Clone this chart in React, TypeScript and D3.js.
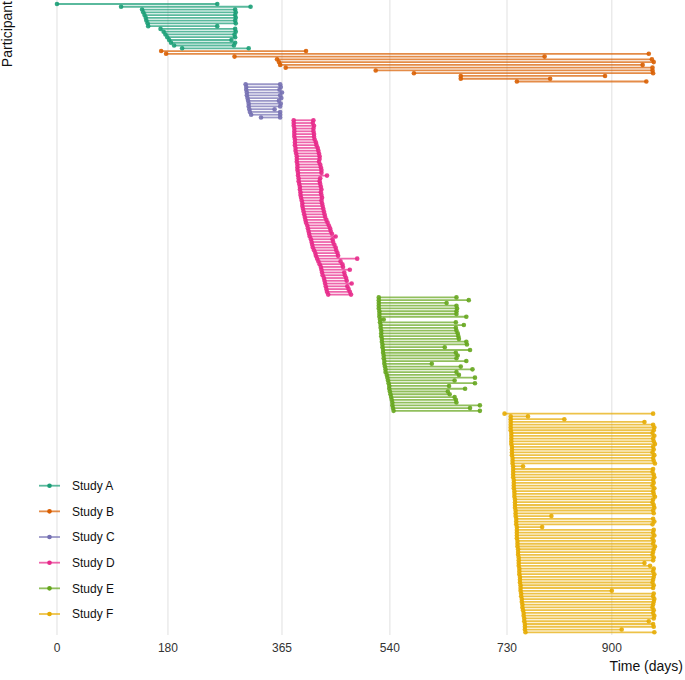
import { useEffect } from 'react';
import * as d3 from 'd3';

const STUDIES = ['Study A', 'Study B', 'Study C', 'Study D', 'Study E', 'Study F'];
const COLORS = ['#1b9e77', '#d95f02', '#7570b3', '#e7298a', '#66a61e', '#e6ab02'];
const X_TICKS = [0, 180, 365, 540, 730, 900];

// start / end day of each participant, per study (top to bottom)
const startA = [0, 104, 138, 140, 142, 144, 145, 147, 148, 168, 173, 176, 179, 182, 185, 190, 203];
const endA = [260, 314, 289, 290, 289, 290, 289, 290, 260, 289, 290, 288, 289, 283, 289, 287, 311];

const startB = [169, 177, 288, 357, 360, 362, 371, 517, 579, 655, 655, 746];
const endB = [404, 960, 791, 965, 968, 950, 966, 966, 967, 889, 800, 956];

const startC = [306, 307, 307, 308, 308, 309, 310, 311, 311, 312, 313, 315, 331];
const endC = [362, 363, 361, 365, 362, 364, 360, 363, 362, 353, 362, 362, 362];

const startD = [
  384, 384, 384, 385, 385, 385, 385, 386, 386, 386, 387, 387, 388, 389, 389, 389,
  390, 390, 390, 391, 391, 392, 392, 393, 394, 394, 395, 395, 396, 397, 398, 398,
  399, 400, 401, 402, 403, 404, 406, 407, 408, 409, 410, 412, 413, 414, 415, 417,
  419, 420, 422, 424, 426, 428, 429, 430, 431, 433, 434, 435, 436, 437, 438, 440,
];
const endD = [
  416, 415, 417, 416, 416, 417, 417, 418, 420, 421, 423, 424, 425, 426, 426, 425,
  427, 428, 429, 429, 438, 427, 426, 427, 428, 429, 428, 429, 430, 429, 430, 431,
  432, 433, 434, 435, 437, 439, 441, 443, 444, 446, 452, 447, 448, 450, 452, 453,
  455, 456, 487, 460, 463, 464, 475, 466, 467, 469, 470, 478, 471, 473, 475, 477,
];

const startE = [
  522, 522, 522, 522, 522, 523, 523, 523, 524, 524, 525, 525, 526, 526, 526, 527,
  527, 528, 528, 529, 529, 530, 530, 531, 531, 532, 533, 533, 535, 536, 537, 538,
  539, 539, 540, 541, 542, 543, 544, 544, 545, 546,
];
const endE = [
  648, 668, 632, 648, 649, 648, 648, 664, 530, 647, 660, 647, 648, 650, 651, 652,
  664, 665, 629, 670, 647, 650, 648, 664, 608, 655, 674, 648, 652, 678, 645, 678,
  636, 662, 634, 637, 645, 647, 648, 686, 670, 686,
];

const startF = [
  726, 736, 736, 736, 736, 736, 736, 737, 737, 737, 737, 737, 738, 738, 738, 738,
  739, 739, 739, 740, 740, 740, 740, 740, 741, 741, 741, 741, 742, 742, 742, 743,
  743, 743, 743, 744, 744, 744, 745, 745, 745, 746, 746, 746, 746, 746, 747, 747,
  747, 748, 748, 748, 749, 749, 749, 749, 750, 750, 750, 751, 751, 751, 752, 752,
  752, 753, 753, 754, 754, 755, 755, 756, 757, 757, 758, 758, 759, 759, 759, 760,
];
const endF = [
  967, 764, 823, 953, 967, 969, 968, 966, 969, 967, 968, 970, 967, 968, 966, 969,
  967, 968, 970, 756, 967, 966, 968, 969, 967, 968, 966, 969, 967, 968, 970, 967,
  966, 968, 969, 967, 968, 802, 967, 969, 966, 787, 968, 967, 969, 966, 968, 967,
  970, 968, 967, 966, 968, 967, 953, 962, 968, 967, 969, 968, 967, 966, 968, 967,
  900, 968, 967, 969, 968, 967, 966, 968, 967, 969, 968, 960, 967, 968, 916, 969,
];

const STARTS = [startA, startB, startC, startD, startE, startF];
const ENDS = [endA, endB, endC, endD, endE, endF];

interface Row { id: string; study: number; start: number; end: number; }

const rows: Row[] = [];
STARTS.forEach((s, si) => {
  s.forEach((v, i) => rows.push({ id: `${si}-${i}`, study: si, start: v, end: ENDS[si][i] }));
});

const W = 685;
const H = 680;
const FONT = '"Liberation Sans", Arial, sans-serif';

export default function App() {
  useEffect(() => {
    document.body.style.margin = '0';
  }, []);

  const x = d3.scaleLinear().domain([-47, 1009]).range([28, 679]);
  const y = d3.scalePoint<string>().domain(rows.map(r => r.id)).range([4, 632.3]);

  const legendY = d3.scalePoint<string>().domain(STUDIES).range([485.7, 614]);

  return (
    <svg width={W} height={H} style={{ display: 'block', fontFamily: FONT }}>
      <rect width={W} height={H} fill="#fff" />
      {X_TICKS.map(t => (
        <line key={`g${t}`} x1={x(t)} x2={x(t)} y1={0} y2={635} stroke="#e3e3e3" strokeWidth={1.1} />
      ))}
      {rows.map(r => (
        <line key={`l${r.id}`} x1={x(r.start)} x2={x(r.end)} y1={y(r.id)} y2={y(r.id)}
          stroke={COLORS[r.study]} strokeOpacity={0.72} strokeWidth={1.8} />
      ))}
      {rows.map(r => (
        <g key={`p${r.id}`} fill={COLORS[r.study]} fillOpacity={0.9}>
          <circle cx={x(r.start)} cy={y(r.id)} r={2.3} />
          <circle cx={x(r.end)} cy={y(r.id)} r={2.3} />
        </g>
      ))}
      {X_TICKS.map(t => (
        <text key={`t${t}`} x={x(t)} y={652} textAnchor="middle" fontSize={12} fill="#333">{t}</text>
      ))}
      <text x={683} y={671} textAnchor="end" fontSize={14} fill="#111">Time (days)</text>
      <text transform="translate(12,1) rotate(-90)" textAnchor="end" fontSize={14} fill="#111">Participant</text>
      {STUDIES.map((s, i) => (
        <g key={s} transform={`translate(0,${legendY(s)})`}>
          <line x1={39} x2={60} stroke={COLORS[i]} strokeOpacity={0.72} strokeWidth={1.8} />
          <circle cx={49.5} r={2.3} fill={COLORS[i]} />
          <text x={72} dy="0.35em" fontSize={12} fill="#111">{s}</text>
        </g>
      ))}
    </svg>
  );
}
